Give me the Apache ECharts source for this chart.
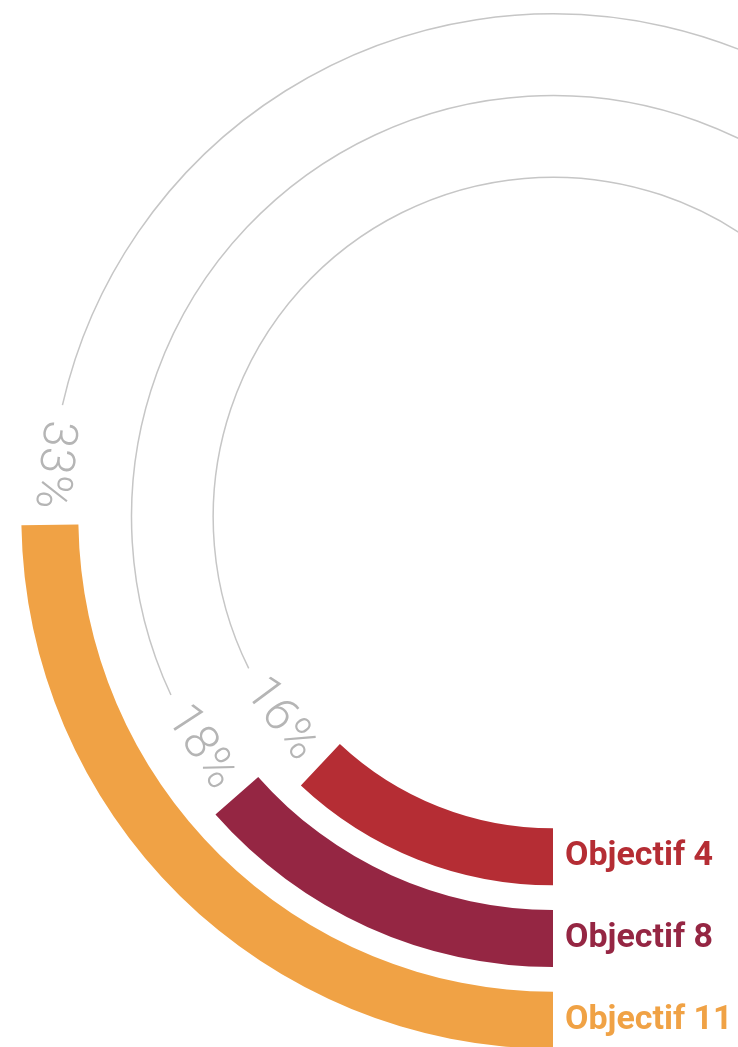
<!DOCTYPE html>
<html>
<head>
<meta charset="utf-8">
<title>Objectifs</title>
<script src="https://cdn.jsdelivr.net/npm/echarts@6/dist/echarts.min.js"></script>
<style>
    html, body { margin: 0; padding: 0; background: #fff; }
    #chart { width: 738px; height: 1047px; }
</style>
</head>
<body>
<div id="chart"></div>
<script>
// anneaux, de l'intérieur vers l'extérieur
var categories = ['Objectif 4', 'Objectif 8', 'Objectif 11'];
var values = [16, 18, 33];
var colors = ['#b52d34', '#952643', '#f0a245'];
var trackMax = 100; // 100 % = trois quarts de tour

var pctFont = '300 48px Roboto';
var nameFont = 'bold 34px Roboto';
var pctColor = '#b5b5b5';
var trackColor = '#c6c6c6';

// largeur d'un texte, pour laisser la place au pourcentage sur la piste
var measure = (function() {
    var ctx = document.createElement('canvas').getContext('2d');
    return function(text, font) {
        ctx.font = font;
        return ctx.measureText(text).width;
    };
})();

// angle écran ramené dans [pi/2, pi/2 + 2pi) : on part de 6 h
var unwrap = function(a) {
    while (a < Math.PI / 2 - 1e-3) {
        a += Math.PI * 2;
    }
    return a;
};

// piste grise + pourcentage + nom de l'objectif
var renderRing = function(params, api) {
    var cs = params.coordSys;
    var idx = api.value(0);
    var val = api.value(1);
    var p0 = api.coord([idx, 0]);
    var p1 = api.coord([idx, val]);
    var pMax = api.coord([idx, trackMax]);
    var r = Math.sqrt(Math.pow(p0[0] - cs.cx, 2) + Math.pow(p0[1] - cs.cy, 2));
    var aEnd = unwrap(Math.atan2(p1[1] - cs.cy, p1[0] - cs.cx));
    var aMax = unwrap(Math.atan2(pMax[1] - cs.cy, pMax[0] - cs.cx));

    var text = val + '%';
    var w = measure(text, pctFont);
    var gap = 16;
    var aMid = aEnd + (gap + w / 2) / r;
    var aTrack = aEnd + (gap * 2 + w) / r;

    return {
        type: 'group',
        children: [{
            type: 'arc',
            shape: {
                cx: cs.cx,
                cy: cs.cy,
                r: r,
                startAngle: aTrack,
                endAngle: aMax,
                clockwise: true
            },
            style: {
                stroke: trackColor,
                fill: null,
                lineWidth: 1.5
            }
        }, {
            type: 'text',
            x: cs.cx + r * Math.cos(aMid),
            y: cs.cy + r * Math.sin(aMid),
            rotation: Math.PI / 2 - aMid,
            style: {
                text: text,
                font: pctFont,
                fill: pctColor,
                align: 'center',
                verticalAlign: 'middle'
            }
        }, {
            type: 'text',
            x: p0[0] + 12,
            y: p0[1],
            style: {
                text: categories[idx],
                font: nameFont,
                fill: colors[idx],
                align: 'left',
                verticalAlign: 'middle'
            }
        }]
    };
};

var chart = echarts.init(document.getElementById('chart'));

var option = {
    animation: false,
    polar: {
        center: [553, 517],
        radius: [299, 544]
    },
    angleAxis: {
        type: 'value',
        startAngle: 270,
        clockwise: true,
        min: 0,
        max: trackMax * 360 / 270,
        show: false
    },
    radiusAxis: {
        type: 'category',
        data: categories,
        show: false
    },
    series: [{
        type: 'bar',
        coordinateSystem: 'polar',
        barWidth: 57,
        silent: true,
        data: values.map(function(v, i) {
            return {
                value: v,
                itemStyle: { color: colors[i] }
            };
        }),
        z: 2
    }, {
        type: 'custom',
        coordinateSystem: 'polar',
        silent: true,
        renderItem: renderRing,
        data: values.map(function(v, i) {
            return [i, v];
        }),
        z: 3
    }]
};

chart.setOption(option);
</script>
</body>
</html>
